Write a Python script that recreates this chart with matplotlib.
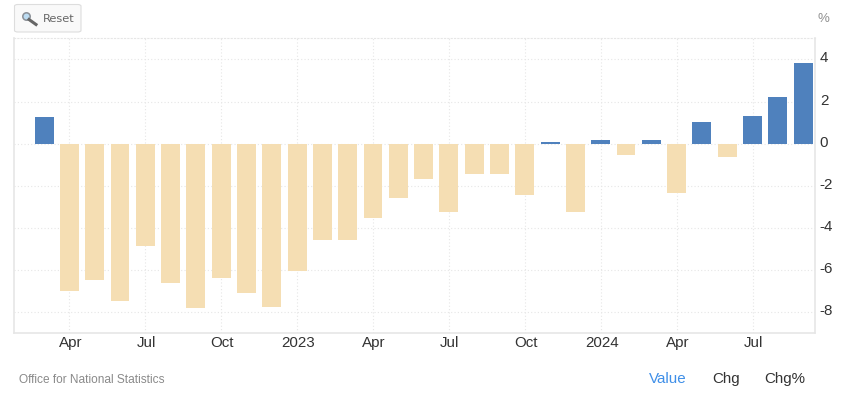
import matplotlib
matplotlib.use("Agg")
import matplotlib.pyplot as plt
from matplotlib.patches import FancyBboxPatch, Circle
from matplotlib.lines import Line2D
from matplotlib.transforms import ScaledTranslation

months = ["Mar 2022","Apr","May","Jun","Jul","Aug","Sep","Oct","Nov","Dec",
          "Jan 2023","Feb","Mar","Apr","May","Jun","Jul","Aug","Sep","Oct","Nov","Dec",
          "Jan 2024","Feb","Mar","Apr","May","Jun","Jul","Aug","Sep"]
values = [1.25,-7.0,-6.5,-7.5,-4.85,-6.6,-7.8,-6.4,-7.1,-7.75,
          -6.05,-4.6,-4.6,-3.55,-2.6,-1.7,-3.25,-1.45,-1.45,-2.45,0.1,-3.25,
          0.15,-0.55,0.15,-2.35,1.05,-0.65,1.3,2.2,3.85]
tick_labels = ["Apr","Jul","Oct","2023","Apr","Jul","Oct","2024","Apr","Jul"]
yticks = [4,2,0,-2,-4,-6,-8]
source = "Office for National Statistics"
tabs = ["Value","Chg","Chg%"]

W, H = 842, 395
POS, NEG = "#4f81bd", "#f5deb3"
plt.rcParams["font.family"] = ["Liberation Sans", "DejaVu Sans"]
fig = plt.figure(figsize=(W/100, H/100), dpi=100, facecolor="white")
L, R, T, B = 14, 815, 38, 333
ax = fig.add_axes([L/W, 1-B/H, (R-L)/W, (B-T)/H])

x = list(range(len(values)))
ax.bar(x, values, width=0.75, color=[POS if v > 0 else NEG for v in values], zorder=3, linewidth=0)
ax.set_xlim(-1.19, 30.47)
ax.set_ylim(-9.0, 5.02)

ax.set_xticks(x[1::3])
ax.set_xticklabels(tick_labels, fontsize=10.9, color="#333333")
ax.set_yticks(yticks)
ax.set_yticklabels([str(t) for t in yticks], fontsize=10.9, color="#333333")
ax.yaxis.tick_right()
ax.tick_params(axis="x", length=0, pad=2.5)
ax.tick_params(axis="y", length=0, pad=3.5)
ax.grid(True, color="#e6e6e6", linestyle=(0, (1, 2)), linewidth=0.8, zorder=0)
ax.set_axisbelow(True)
for s in ["left", "right", "bottom"]:
    ax.spines[s].set_color("#e6e6e6")
    ax.spines[s].set_linewidth(1.2)
ax.spines["top"].set_color("#e6e6e6")
ax.spines["top"].set_linestyle((0, (1, 2)))
ax.spines["top"].set_linewidth(0.8)

shift = ScaledTranslation(0, 2.5/100, fig.dpi_scale_trans)
for lab in ax.get_yticklabels():
    lab.set_transform(lab.get_transform() + shift)
shiftx = ScaledTranslation(1/100, 0, fig.dpi_scale_trans)
for lab in ax.get_xticklabels():
    lab.set_transform(lab.get_transform() + shiftx)

def fx(p): return p / W
def fy(p): return 1 - p / H

fig.add_artist(FancyBboxPatch((fx(14.5), fy(32)), 66.5/W, 27.5/H, boxstyle="round,pad=0,rounding_size=0.004",
               transform=fig.transFigure, facecolor="#f9f9f9", edgecolor="#dddddd", linewidth=0.8))
fig.add_artist(Line2D([fx(29), fx(36)], [fy(19.5), fy(24.5)], color="#666666", linewidth=2.2, transform=fig.transFigure))
fig.add_artist(Circle((26.5, H-16.5), 3.7, transform=None, facecolor="#bcdcf2", edgecolor="#8a8f96", linewidth=1.1))
fig.text(fx(42.5), fy(18.5), "Reset", fontsize=8.2, family="DejaVu Sans", color="#666666", va="center", ha="left")
fig.text(fx(818), fy(18.5), "%", fontsize=9.5, color="#909090", va="center", ha="left")
fig.text(fx(19), fy(380), source, fontsize=8.55, color="#8a8a8a", va="center", ha="left")
for label, px, col in zip(tabs, [649, 712.5, 764], ["#3f8fe8", "#333333", "#333333"]):
    fig.text(fx(px), fy(379), label, fontsize=10.9, color=col, va="center", ha="left")

fig.savefig("out.png", dpi=100)
